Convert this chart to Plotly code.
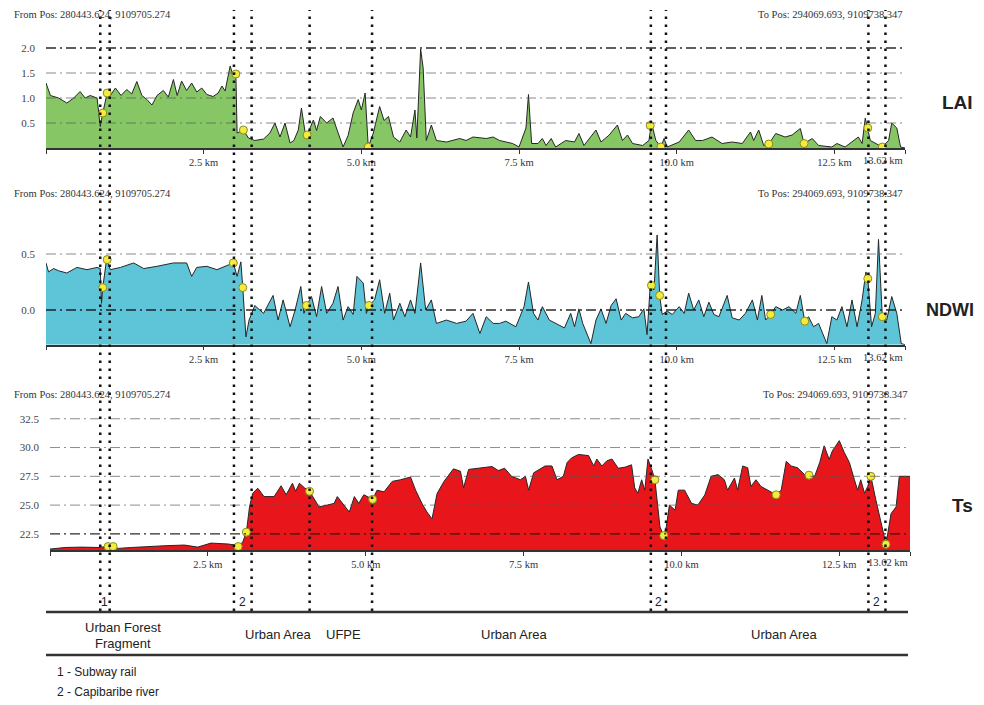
import plotly.graph_objects as go

W, H = 984, 705
PAGE_OFFSET = 8  # default page margin around the plot div


def px(x):
    return (x - PAGE_OFFSET) / W


def py(y):
    return 1 - (y - PAGE_OFFSET) / H


# ---------------- data (distance km, value) ----------------
LAI_PROFILE = [
    (0.00, 1.30), (0.07, 1.05), (0.20, 1.00), (0.33, 0.90), (0.44, 1.00), (0.54, 1.13),
    (0.62, 1.00), (0.70, 1.05), (0.81, 1.00), (0.86, 0.43), (0.90, 0.70), (0.97, 1.10),
    (1.02, 1.05), (1.10, 1.20), (1.19, 1.05), (1.28, 1.17), (1.36, 1.08), (1.44, 1.33),
    (1.52, 1.05), (1.60, 0.97), (1.68, 0.86), (1.76, 1.05), (1.86, 1.15), (1.94, 1.02),
    (2.02, 1.37), (2.08, 1.05), (2.15, 1.34), (2.23, 1.15), (2.31, 1.30), (2.39, 1.12),
    (2.47, 1.20), (2.55, 1.07), (2.65, 1.03), (2.73, 1.10), (2.79, 1.24), (2.84, 1.14),
    (2.92, 1.64), (2.97, 1.44), (3.01, 1.50), (3.03, 0.30), (3.13, 0.36), (3.21, 0.20),
    (3.31, 0.15), (3.45, 0.18), (3.55, 0.30), (3.63, 0.50), (3.71, 0.22), (3.79, 0.50),
    (3.87, 0.10), (3.93, 0.15), (4.00, 0.36), (4.05, 0.80), (4.11, 0.30), (4.14, 0.26),
    (4.24, 0.56), (4.29, 0.35), (4.35, 0.63), (4.45, 0.50), (4.55, 0.60), (4.62, 0.36),
    (4.71, 0.02), (4.79, 0.25), (4.87, 0.70), (4.95, 0.97), (5.00, 0.76), (5.06, 1.10),
    (5.11, 0.02), (5.19, 0.30), (5.29, 0.83), (5.36, 0.55), (5.43, 0.63), (5.51, 0.22),
    (5.61, 0.12), (5.71, 0.36), (5.78, 0.22), (5.85, 0.76), (5.88, 0.20), (5.94, 1.98),
    (5.98, 1.60), (6.03, 0.15), (6.11, 0.46), (6.19, 0.15), (6.35, 0.12), (6.56, 0.19),
    (6.66, 0.15), (6.77, 0.22), (6.98, 0.19), (7.09, 0.22), (7.19, 0.15), (7.40, 0.09),
    (7.50, 0.02), (7.61, 0.40), (7.65, 1.07), (7.70, 0.09), (7.80, 0.09), (7.87, 0.19),
    (7.93, 0.05), (8.01, 0.19), (8.08, 0.02), (8.24, 0.15), (8.38, 0.12), (8.45, 0.29),
    (8.53, 0.05), (8.72, 0.36), (8.80, 0.12), (8.93, 0.26), (9.06, 0.46), (9.14, 0.15),
    (9.22, 0.26), (9.30, 0.09), (9.46, 0.05), (9.56, 0.15), (9.60, 0.50), (9.67, 0.15),
    (9.75, 0.02), (9.80, 0.19), (9.85, 0.02), (10.04, 0.12), (10.19, 0.36), (10.30, 0.15),
    (10.41, 0.15), (10.56, 0.22), (10.72, 0.09), (10.88, 0.12), (11.04, 0.09), (11.17, 0.32),
    (11.22, 0.15), (11.30, 0.36), (11.38, 0.05), (11.46, 0.08), (11.57, 0.29), (11.72, 0.22),
    (11.83, 0.26), (11.96, 0.39), (12.02, 0.09), (12.15, 0.19), (12.25, 0.05), (12.46, 0.02),
    (12.54, 0.09), (12.67, 0.02), (12.88, 0.22), (12.94, 0.09), (12.99, 0.60), (13.07, 0.15),
    (13.26, 0.02), (13.36, 0.15), (13.41, 0.50), (13.49, 0.40), (13.55, 0.02), (13.62, 0.00),
]

NDWI_PROFILE = [
    (0.00, 0.42), (0.04, 0.34), (0.12, 0.37), (0.20, 0.35), (0.33, 0.33), (0.49, 0.38),
    (0.65, 0.36), (0.81, 0.38), (0.86, 0.37), (0.88, 0.06), (0.90, 0.20), (0.96, 0.45),
    (1.02, 0.36), (1.18, 0.38), (1.39, 0.42), (1.55, 0.37), (1.76, 0.39), (2.02, 0.42),
    (2.23, 0.42), (2.31, 0.30), (2.39, 0.38), (2.55, 0.39), (2.71, 0.36), (2.87, 0.40),
    (2.97, 0.42), (3.03, 0.30), (3.09, 0.43), (3.12, 0.20), (3.17, -0.24), (3.22, -0.09),
    (3.31, 0.04), (3.45, -0.03), (3.60, 0.13), (3.68, -0.09), (3.76, 0.09), (3.87, -0.15),
    (3.95, 0.00), (4.04, 0.21), (4.09, -0.03), (4.13, 0.04), (4.21, 0.12), (4.29, -0.06),
    (4.37, 0.21), (4.45, -0.03), (4.55, 0.06), (4.63, 0.21), (4.71, -0.09), (4.79, 0.03),
    (4.87, -0.04), (4.93, 0.30), (5.03, 0.24), (5.08, -0.03), (5.12, 0.04), (5.21, 0.09),
    (5.29, 0.27), (5.37, -0.03), (5.45, 0.15), (5.51, -0.09), (5.61, 0.06), (5.69, -0.06),
    (5.78, 0.09), (5.85, -0.03), (5.94, 0.42), (6.02, 0.00), (6.11, 0.09), (6.19, -0.12),
    (6.35, -0.09), (6.51, -0.12), (6.66, -0.10), (6.77, -0.03), (6.88, -0.21), (6.98, -0.06),
    (7.09, -0.12), (7.19, -0.12), (7.29, -0.10), (7.45, -0.15), (7.58, 0.03), (7.65, 0.25),
    (7.73, -0.03), (7.80, -0.09), (7.87, 0.03), (7.98, -0.09), (8.08, -0.12), (8.22, -0.16),
    (8.32, -0.03), (8.38, -0.15), (8.45, 0.01), (8.51, -0.12), (8.64, -0.30), (8.72, -0.09),
    (8.80, 0.01), (8.88, -0.12), (8.96, 0.04), (9.04, 0.10), (9.12, -0.09), (9.19, -0.03),
    (9.30, -0.07), (9.40, -0.06), (9.48, 0.01), (9.53, -0.22), (9.58, 0.21), (9.64, 0.18),
    (9.69, 0.67), (9.73, 0.13), (9.77, -0.04), (9.85, -0.01), (9.93, -0.04), (10.04, 0.03),
    (10.12, -0.03), (10.19, 0.15), (10.27, 0.00), (10.35, 0.09), (10.43, -0.06), (10.51, 0.07),
    (10.59, -0.04), (10.67, -0.06), (10.80, 0.13), (10.88, -0.07), (10.99, -0.09), (11.09, -0.03),
    (11.20, 0.09), (11.28, -0.09), (11.35, 0.13), (11.41, -0.09), (11.49, -0.04), (11.57, 0.03),
    (11.68, 0.00), (11.78, 0.03), (11.89, -0.03), (11.96, 0.13), (12.03, -0.10), (12.09, -0.06),
    (12.17, -0.15), (12.25, -0.12), (12.38, -0.30), (12.46, -0.06), (12.54, -0.09), (12.62, 0.03),
    (12.70, -0.15), (12.78, 0.09), (12.86, -0.15), (12.94, 0.09), (13.00, 0.34), (13.03, 0.28),
    (13.09, -0.15), (13.15, -0.03), (13.20, 0.63), (13.26, -0.06), (13.33, -0.09), (13.41, 0.12),
    (13.49, -0.03), (13.56, -0.30), (13.62, -0.31),
]

TS_PROFILE = [
    (0.00, 21.18), (0.24, 21.32), (0.50, 21.35), (0.76, 21.32), (0.92, 21.41), (1.08, 21.24),
    (1.29, 21.32), (1.55, 21.41), (1.82, 21.47), (2.13, 21.53), (2.34, 21.35), (2.55, 21.70),
    (2.82, 21.62), (2.97, 21.50), (3.05, 21.75), (3.11, 22.65), (3.16, 24.85), (3.21, 26.03),
    (3.29, 26.47), (3.39, 25.74), (3.55, 25.74), (3.66, 26.68), (3.74, 25.90), (3.84, 26.90),
    (3.89, 26.20), (3.95, 26.90), (4.03, 26.50), (4.11, 26.20), (4.18, 25.60), (4.26, 24.85),
    (4.39, 25.00), (4.50, 25.15), (4.55, 25.74), (4.63, 25.20), (4.74, 24.40), (4.82, 25.74),
    (4.89, 25.15), (4.97, 25.90), (5.11, 25.50), (5.18, 26.30), (5.29, 26.15), (5.42, 27.06),
    (5.55, 27.20), (5.71, 27.44), (5.79, 26.30), (5.89, 25.15), (5.97, 24.40), (6.05, 23.80),
    (6.13, 26.00), (6.24, 27.06), (6.39, 28.15), (6.50, 27.94), (6.55, 26.50), (6.63, 28.10),
    (6.82, 28.24), (7.00, 28.35), (7.10, 28.00), (7.20, 28.20), (7.31, 27.50), (7.39, 27.35),
    (7.45, 27.20), (7.53, 27.50), (7.58, 26.30), (7.66, 27.80), (7.74, 28.10), (7.84, 28.40),
    (7.95, 28.40), (8.03, 27.20), (8.13, 27.50), (8.19, 28.70), (8.26, 29.10), (8.37, 29.40),
    (8.53, 29.30), (8.61, 28.40), (8.66, 29.00), (8.74, 28.40), (8.82, 28.85), (8.90, 29.00),
    (9.00, 28.20), (9.11, 28.30), (9.21, 28.50), (9.26, 26.50), (9.31, 26.03), (9.37, 27.20),
    (9.42, 26.30), (9.47, 29.00), (9.53, 28.10), (9.58, 27.20), (9.66, 23.10), (9.72, 22.35),
    (9.76, 23.10), (9.81, 25.00), (9.90, 24.56), (9.95, 26.30), (10.05, 26.30), (10.16, 25.15),
    (10.26, 25.00), (10.37, 25.88), (10.47, 27.50), (10.58, 27.65), (10.68, 27.20), (10.73, 26.30),
    (10.84, 27.35), (10.89, 26.30), (10.97, 28.40), (11.05, 28.24), (11.10, 26.62), (11.18, 27.20),
    (11.26, 26.62), (11.37, 26.30), (11.50, 25.90), (11.58, 26.30), (11.66, 28.80), (11.74, 28.40),
    (11.84, 28.24), (11.95, 27.65), (12.02, 27.65), (12.11, 27.50), (12.19, 28.70), (12.26, 30.15),
    (12.34, 28.97), (12.39, 29.70), (12.50, 30.60), (12.58, 29.56), (12.66, 28.70), (12.74, 27.20),
    (12.79, 26.30), (12.84, 27.20), (12.90, 26.03), (12.95, 26.62), (13.00, 27.50), (13.08, 25.44),
    (13.16, 23.40), (13.24, 21.60), (13.32, 24.26), (13.40, 24.85), (13.45, 27.50), (13.56, 27.50),
    (13.62, 27.50),
]

LAI_MARK_KM = [0.90, 0.97, 3.01, 3.13, 4.14, 5.11, 9.58, 9.75, 11.46, 12.02, 13.03, 13.26]
LAI_MARK_VAL = [0.70, 1.10, 1.48, 0.36, 0.26, 0.02, 0.45, 0.02, 0.08, 0.09, 0.40, 0.02]
NDWI_MARK_KM = [0.90, 0.97, 2.97, 3.12, 4.13, 5.12, 9.60, 9.73, 11.49, 12.03, 13.03, 13.26]
NDWI_MARK_VAL = [0.20, 0.45, 0.42, 0.20, 0.04, 0.04, 0.22, 0.13, -0.04, -0.10, 0.28, -0.06]
TS_MARK_KM = [0.92, 1.00, 2.98, 3.11, 4.11, 5.11, 9.58, 9.72, 11.50, 12.02, 13.00, 13.24]
TS_MARK_VAL = [21.4, 21.4, 21.4, 22.65, 26.2, 25.5, 27.2, 22.35, 25.9, 27.6, 27.5, 21.6]

DIVIDER_KM = [0.86, 1.01, 2.98, 3.26, 4.18, 5.17, 9.59, 9.83, 13.04, 13.31]
FEATURE_LABELS = ["1", "2", "2", "2"]
FEATURE_PAIRS = [(0, 1), (2, 3), (6, 7), (8, 9)]

ZONE_LABELS = ["Urban Forest", "Fragment", "Urban Area", "UFPE", "Urban Area", "Urban Area"]
ZONE_KM = [1.22, 1.22, 3.69, 4.71, 7.43, 11.71]
ZONE_ROW_Y = [627, 643, 634, 634, 634, 634]
LEGEND_LINES = ["1 - Subway rail", "2 - Capibaribe river"]

X_TICKS = [0, 2.5, 5.0, 7.5, 10.0, 12.5, 13.62]
X_TICK_TEXT = ["", "2.5 km", "5.0 km", "7.5 km", "10.0 km", "12.5 km", ""]
X_END_LABEL = "13.62 km"

LAI_TICKS = [0.5, 1.0, 1.5, 2.0]
NDWI_TICKS = [0.0, 0.5]
TS_TICKS = [22.5, 25.0, 27.5, 30.0, 32.5]
DARK_GRID = {"LAI": 2.0, "NDWI": 0.0, "Ts": 22.5}

FROM_POS = "From Pos: 280443.624, 9109705.274"
TO_POS = "To Pos: 294069.693, 9109738.347"

# ---------------- layout geometry ----------------
X_MAX = 13.62
LAI_RANGE = [0, 2.2]
NDWI_RANGE = [-0.31, 0.75]
TS_RANGE = [21.1, 33.0]

panels = [
    dict(name="LAI", prof=LAI_PROFILE, mk=LAI_MARK_KM, mv=LAI_MARK_VAL, ticks=LAI_TICKS,
         rng=LAI_RANGE, color="#86c665", xd=[px(46), px(905)], yd=[py(148), py(38)],
         xa="x", ya="y", pos_y=14, to_x=905, lab_x=940, lab_y=103, lab_size=19),
    dict(name="NDWI", prof=NDWI_PROFILE, mk=NDWI_MARK_KM, mv=NDWI_MARK_VAL, ticks=NDWI_TICKS,
         rng=NDWI_RANGE, color="#5ec5d8", xd=[px(46), px(905)], yd=[py(344.7), py(226)],
         xa="x2", ya="y2", pos_y=193, to_x=905, lab_x=924, lab_y=310, lab_size=18),
    dict(name="Ts", prof=TS_PROFILE, mk=TS_MARK_KM, mv=TS_MARK_VAL, ticks=TS_TICKS,
         rng=TS_RANGE, color="#e8161b", xd=[px(50), px(910)], yd=[py(550), py(413)],
         xa="x3", ya="y3", pos_y=394, to_x=910, lab_x=950, lab_y=505, lab_size=19),
]

fig = go.Figure()
shapes = []
annotations = []
serif = "Liberation Serif, Times New Roman, serif"
sans = "Liberation Sans, Arial, sans-serif"

for i, p in enumerate(panels):
    km = [a for a, b in p["prof"]]
    val = [b for a, b in p["prof"]]
    base = [p["rng"][0]] * len(km)
    fig.add_trace(go.Scatter(x=km, y=base, mode="lines", line=dict(width=0),
                             xaxis=p["xa"], yaxis=p["ya"], hoverinfo="skip"))
    fig.add_trace(go.Scatter(x=km, y=val, mode="lines", fill="tonexty",
                             fillcolor=p["color"], line=dict(color="#262626", width=1),
                             xaxis=p["xa"], yaxis=p["ya"]))
    fig.add_trace(go.Scatter(x=p["mk"], y=p["mv"], mode="markers",
                             marker=dict(size=8, color="#f4ec3c",
                                         line=dict(color="#8c8a1e", width=1)),
                             xaxis=p["xa"], yaxis=p["ya"]))
    sfx = "" if i == 0 else str(i + 1)
    fig.update_layout(**{
        "xaxis" + sfx: dict(domain=p["xd"], range=[0, X_MAX], anchor=p["ya"],
                            automargin=False,
                            showgrid=False, zeroline=False, showline=True,
                            linecolor="#333333", linewidth=1.5,
                            ticks="outside", ticklen=4, tickcolor="#333333",
                            tickvals=X_TICKS, ticktext=X_TICK_TEXT,
                            tickfont=dict(family=serif, size=10.5, color="#333333")),
        "yaxis" + sfx: dict(domain=p["yd"], range=p["rng"], anchor=p["xa"],
                            automargin=False,
                            showgrid=False, zeroline=False, showline=False,
                            tickvals=p["ticks"], ticktext=["%.1f" % t for t in p["ticks"]],
                            ticks="", ticklabelstandoff=10,
                            tickfont=dict(family=serif, size=11, color="#444444")),
    })
    # dash-dot grid lines drawn over the fill
    for t in p["ticks"]:
        dark = (t == DARK_GRID[p["name"]])
        shapes.append(dict(type="line", xref=p["xa"], yref=p["ya"], x0=0, x1=X_MAX,
                           y0=t, y1=t, layer="above",
                           line=dict(color="rgba(20,20,20,0.9)" if dark else "rgba(90,90,90,0.7)",
                                     width=1.3 if dark else 1,
                                     dash="10px,4px,2px,4px")))
    annotations.append(dict(xref=p["xa"], yref=p["ya"] + " domain", x=X_MAX, y=0,
                            yshift=-5, text=X_END_LABEL, showarrow=False,
                            xanchor="right", yanchor="top",
                            font=dict(family=serif, size=10.5, color="#333333")))
    annotations.append(dict(xref="paper", yref="paper", x=px(12), y=py(p["pos_y"]),
                            text=FROM_POS, showarrow=False, xanchor="left", yanchor="middle",
                            font=dict(family=serif, size=10.5, color="#333333")))
    annotations.append(dict(xref="paper", yref="paper", x=px(p["to_x"]), y=py(p["pos_y"]),
                            text=TO_POS, showarrow=False, xanchor="right", yanchor="middle",
                            font=dict(family=serif, size=10.5, color="#333333")))
    annotations.append(dict(xref="paper", yref="paper", x=px(p["lab_x"]), y=py(p["lab_y"]),
                            text="<b>%s</b>" % p["name"], showarrow=False,
                            xanchor="left", yanchor="middle",
                            font=dict(family=sans, size=p["lab_size"], color="#222222")))

# vertical dotted divider lines through all panels
for k in DIVIDER_KM:
    shapes.append(dict(type="line", xref="x", yref="paper", x0=k, x1=k,
                       y0=py(611), y1=py(10), layer="above",
                       line=dict(color="#111111", width=2.5, dash="2.5px,5.5px")))

for lab, (a, b) in zip(FEATURE_LABELS, FEATURE_PAIRS):
    annotations.append(dict(xref="x", yref="paper", x=(DIVIDER_KM[a] + DIVIDER_KM[b]) / 2,
                            y=py(602), text=lab, showarrow=False, yanchor="middle",
                            font=dict(family=sans, size=12, color="#222222")))

# bottom band
for yy in (612, 655):
    shapes.append(dict(type="line", xref="paper", yref="paper", x0=px(46), x1=px(908),
                       y0=py(yy), y1=py(yy), line=dict(color="#333333", width=2.5)))

for lab, k, yy in zip(ZONE_LABELS, ZONE_KM, ZONE_ROW_Y):
    annotations.append(dict(xref="x", yref="paper", x=k, y=py(yy), text=lab,
                            showarrow=False, yanchor="middle",
                            font=dict(family=sans, size=13, color="#222222")))

for j, lab in enumerate(LEGEND_LINES):
    annotations.append(dict(xref="paper", yref="paper", x=px(55), y=py(672 + 20 * j),
                            text=lab, showarrow=False, xanchor="left", yanchor="middle",
                            font=dict(family=sans, size=12, color="#222222")))

fig.update_layout(width=W, height=H, autosize=False, showlegend=False,
                  margin=dict(l=0, r=0, t=0, b=0),
                  paper_bgcolor="white", plot_bgcolor="white",
                  shapes=shapes, annotations=annotations)

fig.write_html("out.html")
